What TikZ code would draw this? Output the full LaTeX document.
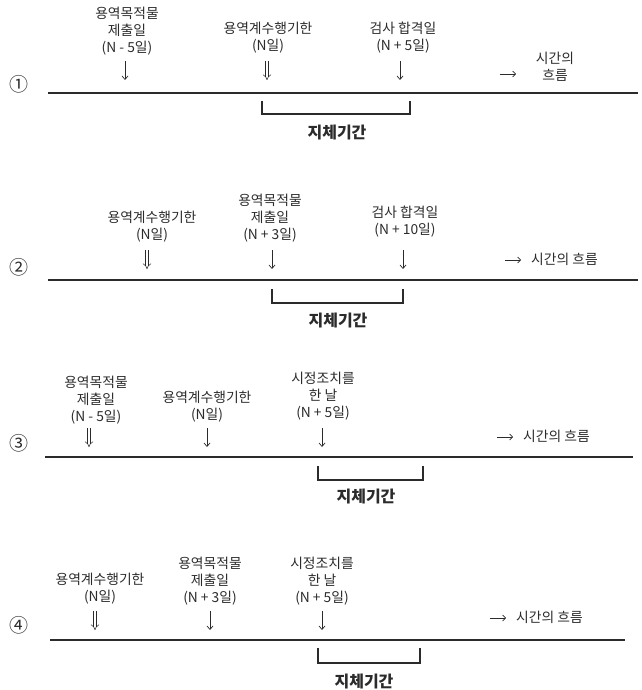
\documentclass[tikz,border=0pt]{standalone}
\usepackage{fontspec}
\newfontfamily\kr{Noto Sans CJK KR}
\usetikzlibrary{arrows.meta}
\definecolor{ink}{HTML}{2B2B2B}
\tikzset{
  lab/.style={align=center, inner sep=0pt, text=ink, font=\kr\fontsize{13.8}{17}\selectfont},
  num/.style={inner sep=0pt, text=ink, font=\kr\fontsize{19}{19}\selectfont},
  dly/.style={inner sep=0pt, text=ink, font=\kr\bfseries\fontsize{16}{16}\selectfont},
  tline/.style={draw=ink, line width=1.1pt},
  brk/.style={draw=ink, line width=1.8pt},
  sarr/.style={draw=ink, line width=0.7pt, -{Straight Barb[length=3.5pt,width=6pt]}},
  darr/.style={draw=ink, line width=0.55pt, double, double distance=2.4pt, -{Implies[length=4pt]}},
  harr/.style={draw=ink, line width=0.7pt, -{Straight Barb[length=3pt,width=6pt]}},
}
\begin{document}
\begin{tikzpicture}[x=1pt,y=-1pt]
\useasboundingbox (0,0) rectangle (641,690);
% ---------- Panel 1 ----------
\node[num] (n1) at (19,84) {①};
\coordinate (l1s) at (48,93); \coordinate (l1e) at (638,93);
\draw[tline] (l1s) -- (l1e);
\node[lab] (a1) at (127,31) {용역목적물\\제출일\\(N - 5일)};
\node[lab] (b1) at (268,38) {용역계수행기한\\(N일)};
\node[lab] (c1) at (403,38) {검사 합격일\\(N + 5일)};
\coordinate (a1t) at (125,61); \coordinate (a1b) at (125,80);
\coordinate (b1t) at (267,61); \coordinate (b1b) at (267,80);
\coordinate (c1t) at (400,61); \coordinate (c1b) at (400,80);
\draw[sarr] (a1t) -- (a1b);
\draw[darr] (b1t) -- (b1b);
\draw[sarr] (c1t) -- (c1b);
\coordinate (h1s) at (500,74); \coordinate (h1e) at (516,74);
\draw[harr] (h1s) -- (h1e);
\node[lab] (f1) at (555,67) {시간의\\흐름};
\coordinate (k1a) at (262,101); \coordinate (k1b) at (410,101);
\draw[brk] (k1a) |- (336,114) -| (k1b);
\node[dly] (d1) at (337,133) {지체기간};
% ---------- Panel 2 ----------
\node[num] (n2) at (19,267) {②};
\coordinate (l2s) at (48,280); \coordinate (l2e) at (638,280);
\draw[tline] (l2s) -- (l2e);
\node[lab] (a2) at (152,227) {용역계수행기한\\(N일)};
\node[lab] (b2) at (270,218) {용역목적물\\제출일\\(N + 3일)};
\node[lab] (c2) at (405,222) {검사 합격일\\(N + 10일)};
\coordinate (a2t) at (147,250); \coordinate (a2b) at (147,269);
\coordinate (b2t) at (272,250); \coordinate (b2b) at (272,269);
\coordinate (c2t) at (403,250); \coordinate (c2b) at (403,269);
\draw[darr] (a2t) -- (a2b);
\draw[sarr] (b2t) -- (b2b);
\draw[sarr] (c2t) -- (c2b);
\coordinate (h2s) at (505,260); \coordinate (h2e) at (521,260);
\draw[harr] (h2s) -- (h2e);
\node[lab, anchor=west] (f2) at (531,259) {시간의 흐름};
\coordinate (k2a) at (272,289); \coordinate (k2b) at (403,289);
\draw[brk] (k2a) |- (338,303) -| (k2b);
\node[dly] (d2) at (338,321) {지체기간};
% ---------- Panel 3 ----------
\node[num] (n3) at (19,443) {③};
\coordinate (l3s) at (45,457); \coordinate (l3e) at (633,457);
\draw[tline] (l3s) -- (l3e);
\node[lab] (a3) at (96,400) {용역목적물\\제출일\\(N - 5일)};
\node[lab] (b3) at (207,407) {용역계수행기한\\(N일)};
\node[lab] (c3) at (323,396) {시정조치를\\한 날\\(N + 5일)};
\coordinate (a3t) at (89,428); \coordinate (a3b) at (89,447);
\coordinate (b3t) at (207,428); \coordinate (b3b) at (207,447);
\coordinate (c3t) at (322,428); \coordinate (c3b) at (322,447);
\draw[darr] (a3t) -- (a3b);
\draw[sarr] (b3t) -- (b3b);
\draw[sarr] (c3t) -- (c3b);
\coordinate (h3s) at (497,437); \coordinate (h3e) at (513,437);
\draw[harr] (h3s) -- (h3e);
\node[lab, anchor=west] (f3) at (523,436) {시간의 흐름};
\coordinate (k3a) at (318,466); \coordinate (k3b) at (423,466);
\draw[brk] (k3a) |- (370,480) -| (k3b);
\node[dly] (d3) at (366,497) {지체기간};
% ---------- Panel 4 ----------
\node[num] (n4) at (19,625) {④};
\coordinate (l4s) at (50,640); \coordinate (l4e) at (625,640);
\draw[tline] (l4s) -- (l4e);
\node[lab] (a4) at (100,589) {용역계수행기한\\(N일)};
\node[lab] (b4) at (210,581) {용역목적물\\제출일\\(N + 3일)};
\node[lab] (c4) at (322,581) {시정조치를\\한 날\\(N + 5일)};
\coordinate (a4t) at (95,611); \coordinate (a4b) at (95,630);
\coordinate (b4t) at (210,611); \coordinate (b4b) at (210,630);
\coordinate (c4t) at (322,611); \coordinate (c4b) at (322,630);
\draw[darr] (a4t) -- (a4b);
\draw[sarr] (b4t) -- (b4b);
\draw[sarr] (c4t) -- (c4b);
\coordinate (h4s) at (490,618); \coordinate (h4e) at (506,618);
\draw[harr] (h4s) -- (h4e);
\node[lab, anchor=west] (f4) at (516,617) {시간의 흐름};
\coordinate (k4a) at (318,648); \coordinate (k4b) at (420,648);
\draw[brk] (k4a) |- (370,663) -| (k4b);
\node[dly] (d4) at (364,681) {지체기간};
\end{tikzpicture}
\end{document}
